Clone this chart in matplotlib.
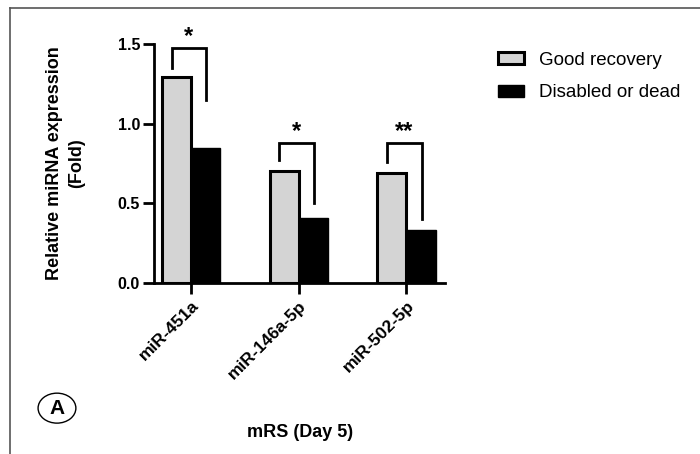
import matplotlib.pyplot as plt
from matplotlib.lines import Line2D
from matplotlib.patches import Ellipse
import numpy as np

plt.rcParams['font.family'] = ['Liberation Sans', 'DejaVu Sans']

mirnas = ['miR-451a', 'miR-146a-5p', 'miR-502-5p']
good_recovery = [1.29, 0.70, 0.69]
disabled_or_dead = [0.85, 0.41, 0.33]
series_labels = ['Good recovery', 'Disabled or dead']

# significance brackets: top, left leg end, right leg end, label
bracket_top = [1.475, 0.88, 0.88]
bracket_left = [1.35, 0.77, 0.76]
bracket_right = [1.15, 0.50, 0.40]
stars = ['*', '*', '**']

fig = plt.figure(figsize=(7, 4.54), dpi=100)
ax = fig.add_axes([0.22, 0.3767, 0.416, 0.5264])

x = np.arange(len(mirnas))
w = 0.27
ax.bar(x - w / 2, good_recovery, w, color='#d4d4d4', edgecolor='black', linewidth=2.2,
       label=series_labels[0], zorder=3)
ax.bar(x + w / 2, disabled_or_dead, w, color='black', edgecolor='black', linewidth=1,
       label=series_labels[1], zorder=3)

for i in range(len(mirnas)):
    xl, xr = i - 0.18, i + 0.14
    ax.plot([xl, xl, xr, xr], [bracket_left[i], bracket_top[i], bracket_top[i], bracket_right[i]],
            color='black', lw=2, clip_on=False, solid_joinstyle='miter')
    ax.text((xl + xr) / 2, bracket_top[i] + 0.0, stars[i], ha='center', va='bottom',
            fontsize=17, fontweight='bold', clip_on=False)

ax.set_xlim(-0.344, 2.36)
ax.set_ylim(0, 1.5)
ax.set_yticks([0, 0.5, 1.0, 1.5])
ax.set_yticklabels(['0.0', '0.5', '1.0', '1.5'], fontsize=11.5, fontweight='bold')
ax.set_xticks(x)
ax.set_xticklabels(mirnas, rotation=45, ha='right', rotation_mode='anchor',
                   fontsize=12.5, fontweight='bold')
ax.tick_params(axis='both', width=2, length=8, direction='out')
ax.tick_params(axis='x', pad=3)
ax.tick_params(axis='y', pad=2)
for s in ['top', 'right']:
    ax.spines[s].set_visible(False)
for s in ['left', 'bottom']:
    ax.spines[s].set_linewidth(2)

ax.set_ylabel('Relative miRNA expression\n(Fold)', fontsize=13, fontweight='bold',
              linespacing=1.45)
ax.yaxis.set_label_coords(-0.235, 0.5)
fig.text(0.4286, 0.048, 'mRS (Day 5)', ha='center', va='center', fontsize=13, fontweight='bold')

handles = [plt.Rectangle((0, 0), 1, 1, facecolor='#d4d4d4', edgecolor='black', linewidth=2.2),
           plt.Rectangle((0, 0), 1, 1, facecolor='black', edgecolor='black')]
fig.legend(handles, series_labels, loc='upper left', bbox_to_anchor=(0.701, 0.903),
           frameon=False, fontsize=13.5, handlelength=1.35, handleheight=0.6,
           labelspacing=0.85, handletextpad=0.8, borderaxespad=0)

# panel letter
fig.patches.append(Ellipse((0.0814, 0.101), 0.054, 0.066, transform=fig.transFigure,
                           facecolor='none', edgecolor='black', lw=1))
fig.text(0.0814, 0.101, 'A', ha='center', va='center', fontsize=15, fontweight='bold')

# panel frame (top and left)
fig.add_artist(Line2D([0.0143, 1.0], [0.982, 0.982], transform=fig.transFigure, color='#555555', lw=1.2))
fig.add_artist(Line2D([0.0143, 0.0143], [0.0, 0.982], transform=fig.transFigure, color='#555555', lw=1.2))

fig.savefig('out.png', dpi=100)
